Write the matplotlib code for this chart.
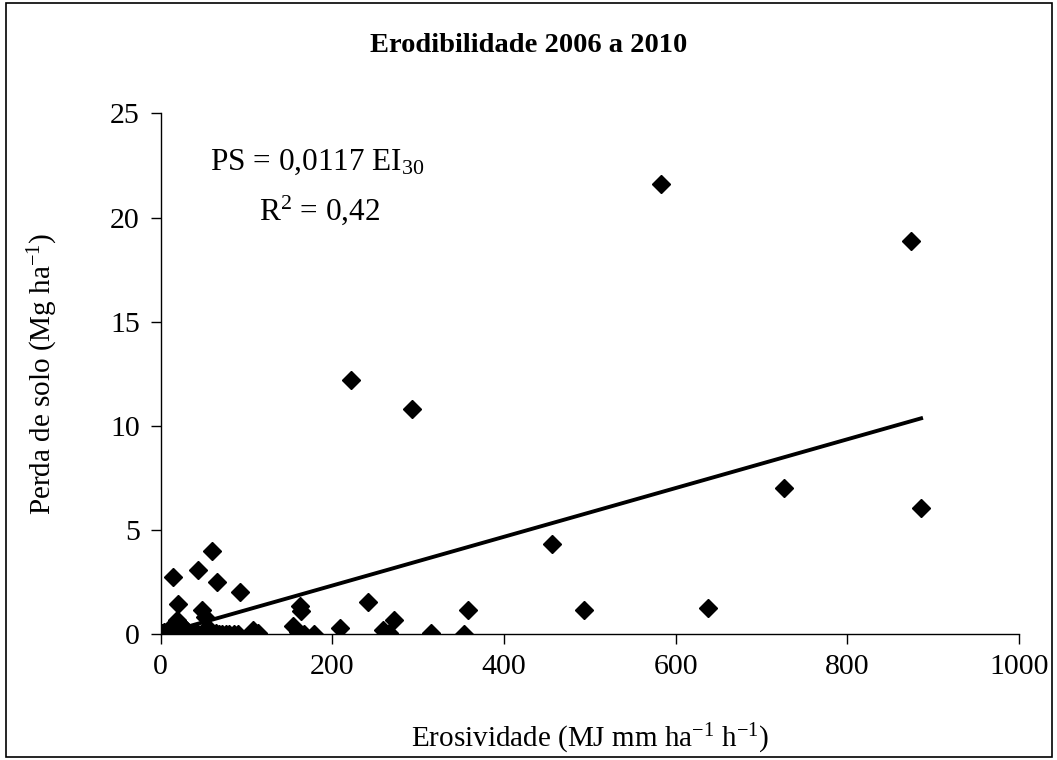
import matplotlib
matplotlib.use("Agg")
import matplotlib.pyplot as plt
from matplotlib.patches import Rectangle

plt.rcParams['font.family'] = ['Liberation Serif', 'DejaVu Serif']
plt.rcParams['mathtext.fontset'] = 'custom'
plt.rcParams['mathtext.rm'] = 'Liberation Serif'
plt.rcParams['mathtext.it'] = 'Liberation Serif:italic'

# erosividade (MJ mm ha-1 h-1) e perda de solo (Mg ha-1)
erosividade = [0, 1, 2, 3, 4, 5, 6, 8, 9, 10, 12, 13, 14, 16, 18, 19, 20, 22, 24, 25,
               26, 28, 30, 33, 36, 40, 44, 48, 52, 56, 60, 64, 68, 72, 76, 80, 85, 90,
               14.7, 43.8, 59.4, 65.2, 92.4, 20.5, 47.7, 51.6, 18.6, 14, 23, 26, 55,
               107.9, 113.7, 154.5, 160, 162, 164, 167, 178.6, 208.9, 222, 241.9,
               259.3, 266.3, 272, 293, 314.5, 353.7, 358.4, 456, 493.5, 582.4, 637.9,
               726.4, 874, 885.3]
perda = [0.02, 0.0, 0.08, 0.0, 0.1, 0.03, 0.0, 0.12, 0.05, 0.0, 0.2, 0.06, 0.0, 0.1, 0.3, 0.0,
         0.05, 0.15, 0.0, 0.25, 0.1, 0.0, 0.2, 0.05, 0.0, 0.1, 0.0, 0.05, 0.0, 0.1, 0.0, 0.05,
         0.0, 0.0, 0.02, 0.0, 0.0, 0.0,
         2.77, 3.09, 4.01, 2.50, 2.02, 1.45, 1.17, 0.82, 0.69, 0.45, 0.5, 0.35, 0.3,
         0.2, 0.07, 0.40, 0.1, 1.36, 1.13, 0.0, 0.0, 0.29, 12.2, 1.54,
         0.21, 0.08, 0.69, 10.83, 0.05, 0.0, 1.17, 4.32, 1.17, 21.6, 1.25,
         7.01, 18.9, 6.05]

coef = 0.0117
linha_x = [0, 886]
linha_y = [coef * v for v in linha_x]

fig = plt.figure(figsize=(10.57, 7.6), dpi=100)
ax = fig.add_axes([0.152, 0.1654, 0.812, 0.6853])

ax.plot(linha_x, linha_y, color='black', lw=2.8, zorder=2)
ax.plot(erosividade, perda, linestyle='none', marker='D', ms=9.5, color='black', zorder=3)

ax.set_xlim(0, 1000)
ax.set_ylim(0, 25)
ax.set_xticks(range(0, 1001, 200))
ax.set_yticks(range(0, 26, 5))
for s in ['top', 'right']:
    ax.spines[s].set_visible(False)
for s in ['left', 'bottom']:
    ax.spines[s].set_linewidth(1.0)
ax.spines['bottom'].set_zorder(1)
ax.tick_params(axis='both', direction='out', length=7, width=1.0, labelsize=21.5)
ax.tick_params(axis='x', pad=7)
ax.tick_params(axis='y', pad=8)

ax.set_xlabel('Erosividade (MJ mm ha$^{-1}$ h$^{-1}$)', fontsize=21, labelpad=30)
ax.set_ylabel('Perda de solo (Mg ha$^{-1}$)', fontsize=21, labelpad=36)

ax.text(0.183, 0.906, 'PS = 0,0117 EI$_{30}$', transform=ax.transAxes,
        ha='center', va='center', fontsize=22.5)
ax.text(0.185, 0.815, 'R$^{2}$ = 0,42', transform=ax.transAxes,
        ha='center', va='center', fontsize=22.5)

fig.text(0.5, 1 - 45 / 760, 'Erodibilidade 2006 a 2010', ha='center', va='center',
         fontsize=20.5, fontweight='bold')

fig.patches.append(Rectangle((6 / 1057, 3 / 760), 1046 / 1057, 754 / 760,
                             transform=fig.transFigure, fill=False,
                             edgecolor='black', lw=1.2))

fig.savefig('out.png', dpi=100)
